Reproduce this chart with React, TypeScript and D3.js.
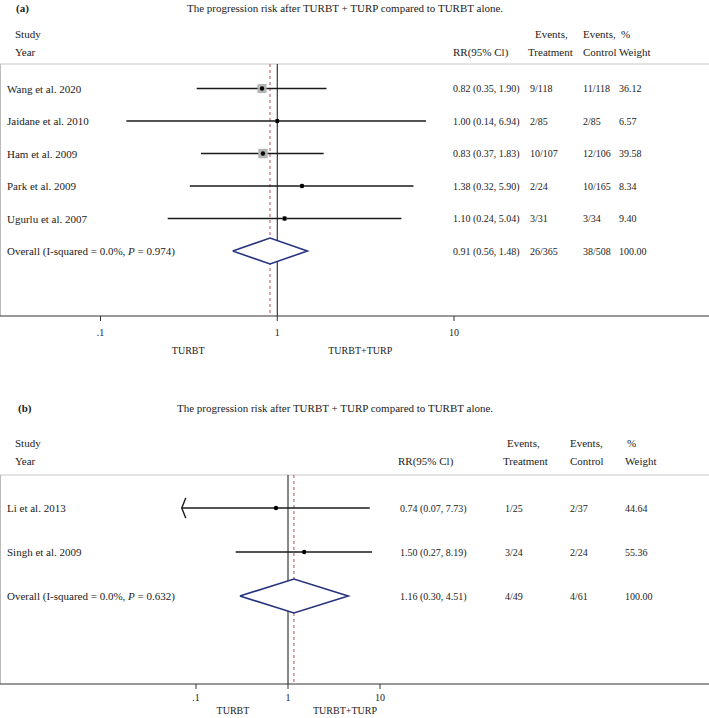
import React from 'react';
import * as d3 from 'd3';

// panel (a)
const studiesA = ['Wang et al. 2020', 'Jaidane et al. 2010', 'Ham et al. 2009', 'Park et al. 2009', 'Ugurlu et al. 2007'];
const rrA = [0.82, 1.0, 0.83, 1.38, 1.1];
const lowA = [0.35, 0.14, 0.37, 0.32, 0.24];
const highA = [1.9, 6.94, 1.83, 5.9, 5.04];
const treatA = ['9/118', '2/85', '10/107', '2/24', '3/31'];
const ctrlA = ['11/118', '2/85', '12/106', '10/165', '3/34'];
const weightA = [36.12, 6.57, 39.58, 8.34, 9.4];
const overallA = [0.91, 0.56, 1.48];
const overallTextA = ['26/365', '38/508', '100.00'];
const pA = '0.974';

// panel (b)
const studiesB = ['Li et al. 2013', 'Singh et al. 2009'];
const rrB = [0.74, 1.5];
const lowB = [0.07, 0.27];
const highB = [7.73, 8.19];
const treatB = ['1/25', '3/24'];
const ctrlB = ['2/37', '2/24'];
const weightB = [44.64, 55.36];
const overallB = [1.16, 0.3, 4.51];
const overallTextB = ['4/49', '4/61', '100.00'];
const pB = '0.632';

const tickValues = [0.1, 1, 10];
const tickLabels = ['.1', '1', '10'];
const title = 'The progression risk after TURBT + TURP compared to TURBT alone.';

const W = 709;
const H = 718;
const FONT = '"Liberation Serif", "Times New Roman", serif';
const f2 = d3.format('.2f');

const Panel = ({ cfg, studies, rr, low, high, treat, ctrl, weight, overall, overallText, p }) => {
  const x = d3.scaleLog().domain([0.1, 10]).range(cfg.xRange);
  const rows = [...studies, 'Overall'];
  const y = d3.scalePoint().domain(rows).range(cfg.rowRange);
  const box = d3.scaleSqrt().domain([0, 36.12]).range([0, 9]);
  const oy = y('Overall');
  const diamond = d3.line()([
    [x(overall[1]), oy],
    [x(overall[0]), oy - cfg.dh],
    [x(overall[2]), oy],
    [x(overall[0]), oy + cfg.dh],
    [x(overall[1]), oy],
  ]);
  const txt = { fontFamily: FONT, fontSize: 11, fill: '#222' };
  const num = { fontFamily: FONT, fontSize: 10, fill: '#222' };
  const c = cfg.cols;
  return (
    <g>
      <text x={cfg.labelX} y={cfg.titleY} dominantBaseline="central" style={{ ...txt, fontWeight: 'bold' }}>{cfg.label}</text>
      <text x={cfg.titleX} y={cfg.titleY} dominantBaseline="central" style={txt}>{title}</text>

      <text x={15} y={cfg.head1} dominantBaseline="central" style={txt}>Study</text>
      <text x={15} y={cfg.head2} dominantBaseline="central" style={txt}>Year</text>
      <text x={c.rrHead} y={cfg.head2} dominantBaseline="central" style={txt}>RR(95% Cl)</text>
      <text x={c.treatHead} y={cfg.head1} dominantBaseline="central" style={txt}>Events,</text>
      <text x={c.treatHead2} y={cfg.head2} dominantBaseline="central" style={txt}>Treatment</text>
      <text x={c.ctrl} y={cfg.head1} dominantBaseline="central" style={txt}>Events,</text>
      <text x={c.ctrl} y={cfg.head2} dominantBaseline="central" style={txt}>Control</text>
      <text x={c.w + 2} y={cfg.head1} dominantBaseline="central" style={txt}>%</text>
      <text x={c.w} y={cfg.head2} dominantBaseline="central" style={txt}>Weight</text>

      <line x1={0} x2={W} y1={cfg.headLine} y2={cfg.headLine} stroke="#c8c8c8" strokeWidth={1.2} />
      <line x1={0.5} x2={0.5} y1={cfg.headLine} y2={cfg.axisY} stroke="#bbb" strokeWidth={1} />

      {/* reference lines */}
      <line x1={x(1)} x2={x(1)} y1={cfg.headLine} y2={cfg.axisY} stroke="#111" strokeWidth={1} />
      <line x1={x(overall[0])} x2={x(overall[0])} y1={cfg.headLine} y2={cfg.axisY}
        stroke="#b0505a" strokeWidth={1} strokeDasharray="3,3" />

      {studies.map((s, i) => {
        const yy = y(s);
        const lo = Math.max(low[i], 0.07);
        const arrow = low[i] < 0.1;
        const bs = cfg.boxes ? box(weight[i]) : 0;
        return (
          <g key={s}>
            <text x={7} y={yy} dominantBaseline="central" style={txt}>{s}</text>
            <line x1={x(lo)} x2={x(high[i])} y1={yy} y2={yy} stroke="#1a1a1a" strokeWidth={1.5} />
            {arrow && (
              <path d={`M${x(lo) + 4},${yy - 10}L${x(lo)},${yy}L${x(lo) + 4},${yy + 10}`}
                fill="none" stroke="#1a1a1a" strokeWidth={1.4} />
            )}
            {bs > 0 && (
              <rect x={x(rr[i]) - bs / 2} y={yy - bs / 2} width={bs} height={bs} fill="#b4b4b4" />
            )}
            <circle cx={x(rr[i])} cy={yy} r={2.2} fill="#000" />
            <text x={c.rr} y={yy} dominantBaseline="central" style={num}>
              {`${f2(rr[i])} (${f2(low[i])}, ${f2(high[i])})`}
            </text>
            <text x={c.treat} y={yy} dominantBaseline="central" style={num}>{treat[i]}</text>
            <text x={c.ctrl} y={yy} dominantBaseline="central" style={num}>{ctrl[i]}</text>
            <text x={c.w} y={yy} dominantBaseline="central" style={num}>{f2(weight[i])}</text>
          </g>
        );
      })}

      <text x={7} y={oy} dominantBaseline="central" style={txt}>
        Overall (I-squared = 0.0%, <tspan fontStyle="italic">P</tspan> = {p})
      </text>
      <path d={diamond} fill="#fff" stroke="#26337f" strokeWidth={1.6} />
      <text x={c.rr} y={oy} dominantBaseline="central" style={num}>
        {`${f2(overall[0])} (${f2(overall[1])}, ${f2(overall[2])})`}
      </text>
      <text x={c.treat} y={oy} dominantBaseline="central" style={num}>{overallText[0]}</text>
      <text x={c.ctrl} y={oy} dominantBaseline="central" style={num}>{overallText[1]}</text>
      <text x={c.w} y={oy} dominantBaseline="central" style={num}>{overallText[2]}</text>

      {/* x axis */}
      <line x1={0} x2={W} y1={cfg.axisY} y2={cfg.axisY} stroke="#333" strokeWidth={1.2} />
      {tickValues.map((t, i) => (
        <g key={t}>
          <line x1={x(t)} x2={x(t)} y1={cfg.axisY} y2={cfg.axisY + 5} stroke="#333" strokeWidth={1} />
          <text x={x(t)} y={cfg.tickY} textAnchor="middle" dominantBaseline="central" style={num}>{tickLabels[i]}</text>
        </g>
      ))}
      <text x={x(1) + cfg.fav[0]} y={cfg.favY} textAnchor="middle" dominantBaseline="central" style={num}>TURBT</text>
      <text x={x(1) + cfg.fav[1]} y={cfg.favY} textAnchor="middle" dominantBaseline="central" style={num}>TURBT+TURP</text>
    </g>
  );
};

const cfgA = {
  label: '(a)', labelX: 16, titleX: 187, titleY: 8,
  head1: 34, head2: 52, headLine: 64,
  rowRange: [88.5, 251], axisY: 316, tickY: 332, favY: 350,
  xRange: [100.5, 454], dh: 13, boxes: true, fav: [-89, 83],
  cols: { rrHead: 453, rr: 453, treatHead: 535, treatHead2: 528, treat: 530, ctrl: 583, w: 619 },
};

const cfgB = {
  label: '(b)', labelX: 18, titleX: 177, titleY: 408,
  head1: 443, head2: 461, headLine: 475,
  rowRange: [508, 596], axisY: 684, tickY: 697, favY: 710,
  xRange: [196, 380], dh: 17, boxes: false, fav: [-55, 57],
  cols: { rrHead: 398, rr: 400, treatHead: 507, treatHead2: 503, treat: 505, ctrl: 570, w: 625 },
};

export default function App() {
  return (
    <>
      <style>{'body{margin:0;background:#fff}'}</style>
      <svg width={W} height={H} style={{ display: 'block' }}>
        <rect width={W} height={H} fill="#fff" />
        <Panel cfg={cfgA} studies={studiesA} rr={rrA} low={lowA} high={highA} treat={treatA}
          ctrl={ctrlA} weight={weightA} overall={overallA} overallText={overallTextA} p={pA} />
        <Panel cfg={cfgB} studies={studiesB} rr={rrB} low={lowB} high={highB} treat={treatB}
          ctrl={ctrlB} weight={weightB} overall={overallB} overallText={overallTextB} p={pB} />
      </svg>
    </>
  );
}
